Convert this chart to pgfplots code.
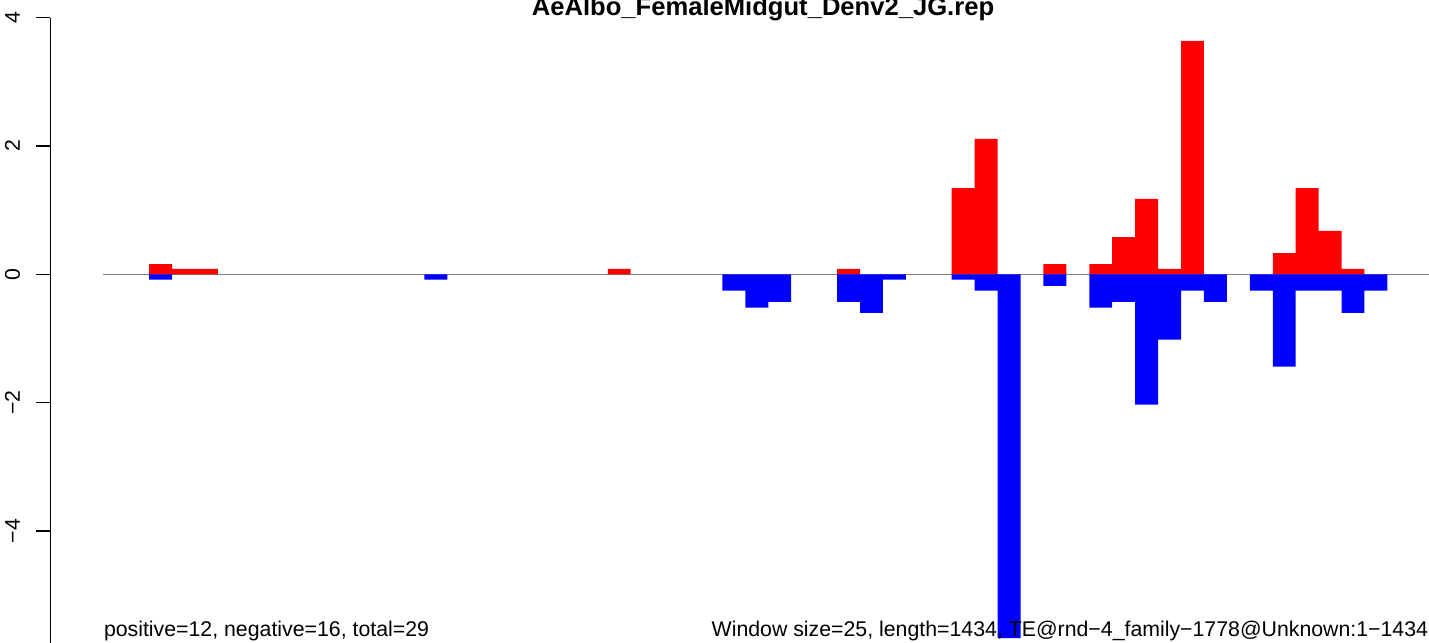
\documentclass[border=0pt]{standalone}
\usepackage{fontspec}
\setmainfont{Liberation Sans}
\usepackage{pgfplots}
\pgfplotsset{compat=1.18}

% 1 px of the reference = 0.5pt
\begin{document}
\begin{tikzpicture}[font=\fontsize{10.65}{13}\selectfont]
\begin{axis}[
    name=ax,
    scale only axis,
    width=689.25pt, height=321.5pt,
    xmin=-2.303, xmax=57.815,
    ymin=-5.747, ymax=4.276,
    clip=false,
    axis line style={draw=none},
    xtick=\empty,
    ytick={-4,-2,0,2,4},
    yticklabels={−4,−2,0,2,4},
    ytick pos=left,
    tick align=outside,
    major tick length=7pt,
    tick style={black, line width=0.6pt},
    yticklabel shift=8.25pt,
    yticklabel style={rotate=90, anchor=base},
]
% zero line under the bars
\draw[gray, line width=0.6pt] (axis cs:0,0) -- (axis cs:57.815,0);
% y axis line from 4 down
\draw[black, line width=0.6pt] ({rel axis cs:0,0} |- {axis cs:0,4}) -- (rel axis cs:0,0);

% positive windows
\addplot[ybar, bar width=1, bar shift=0pt, fill=red, draw=none] coordinates {
    (2.5,0.16) (3.5,0.083) (4.5,0.083) (22.5,0.083) (32.5,0.083)
    (37.5,1.345) (38.5,2.11) (41.5,0.16) (43.5,0.16) (44.5,0.58)
    (45.5,1.174) (46.5,0.083) (47.5,3.637) (51.5,0.33) (52.5,1.345)
    (53.5,0.675) (54.5,0.083)
};
% negative windows
\addplot[ybar, bar width=1, bar shift=0pt, fill=blue, draw=none] coordinates {
    (2.5,-0.083) (14.5,-0.083) (27.5,-0.256) (28.5,-0.52) (29.5,-0.43)
    (32.5,-0.43) (33.5,-0.6) (34.5,-0.083) (37.5,-0.083) (38.5,-0.256)
    (39.5,-5.67) (41.5,-0.18) (43.5,-0.52) (44.5,-0.43) (45.5,-2.03)
    (46.5,-1.02) (47.5,-0.256) (48.5,-0.43) (50.5,-0.256) (51.5,-1.44)
    (52.5,-0.256) (53.5,-0.256) (54.5,-0.6) (55.5,-0.256)
};
\end{axis}

\node[anchor=base, font=\bfseries\fontsize{12.8}{15}\selectfont]
    at ([xshift=356.25pt, yshift=-8pt]ax.north west) {AeAlbo\_FemaleMidgut\_Denv2\_JG.rep};
\node[anchor=base west, inner sep=0pt]
    at ([xshift=26.55pt, yshift=3pt]ax.south west) {positive=12, negative=16, total=29};
\node[anchor=base east, inner sep=0pt]
    at ([xshift=-0.25pt, yshift=3pt]ax.south east) {Window size=25, length=1434, TE@rnd−4\_family−1778@Unknown:1−1434};

\pgfresetboundingbox
\path[use as bounding box] ([xshift=-25.25pt]ax.south west) rectangle (ax.north east);
\end{tikzpicture}
\end{document}
